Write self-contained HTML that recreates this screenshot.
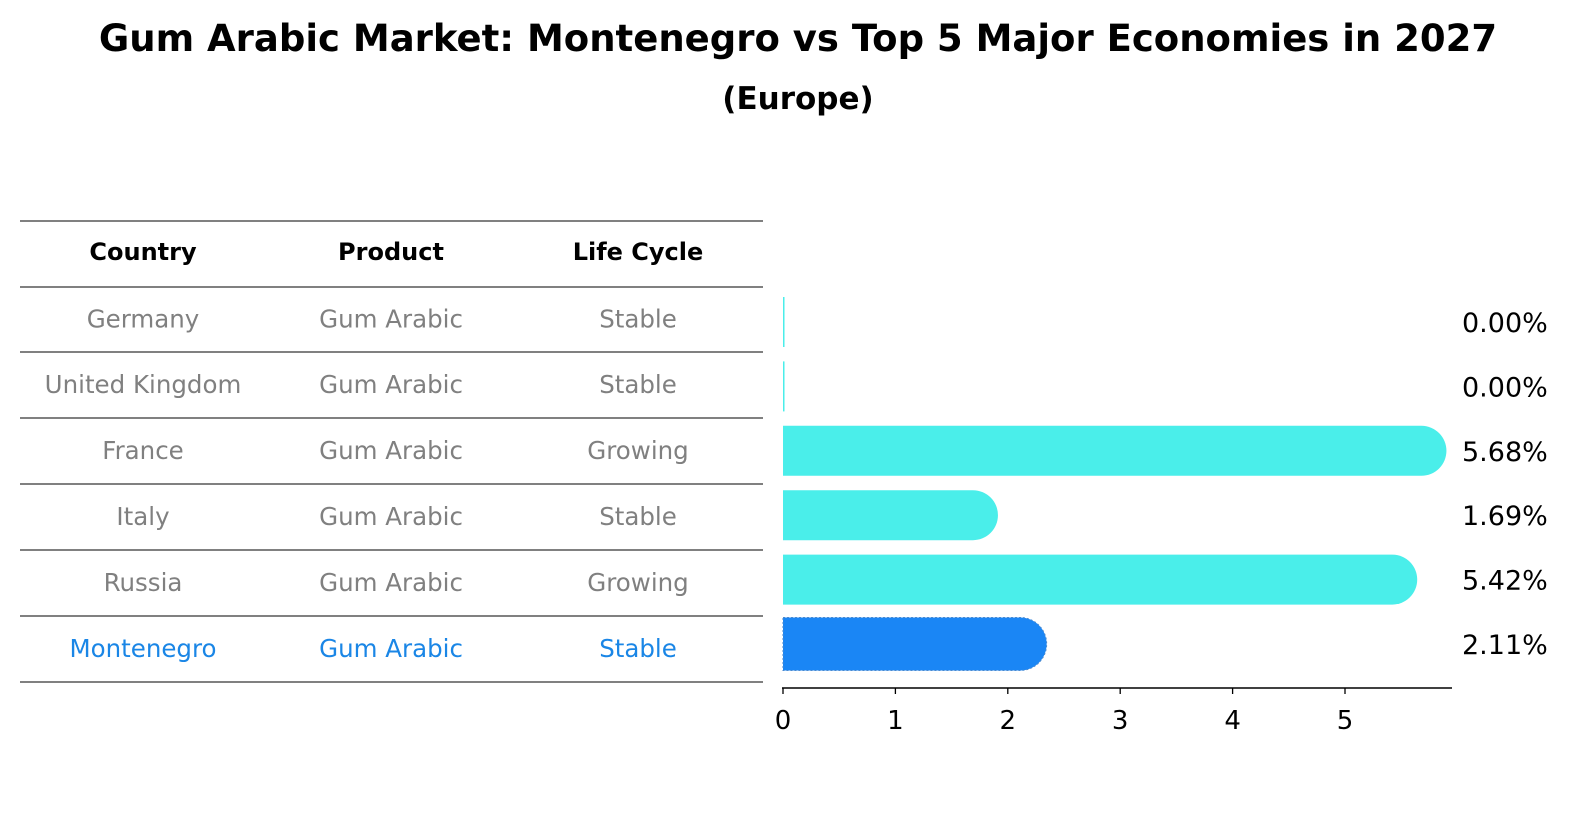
<!DOCTYPE html>
<html><head><meta charset="utf-8"><style>
body{margin:0;background:#fff;font-family:"DejaVu Sans","Liberation Sans",sans-serif;}
svg text{font-family:"DejaVu Sans","Liberation Sans",sans-serif;}
</style></head><body>
<svg id="chart" width="1586" height="823" viewBox="0 0 1586 823" xmlns="http://www.w3.org/2000/svg">
<text x="798" y="51" text-anchor="middle" font-size="37" font-weight="bold">Gum Arabic Market: Montenegro vs Top 5 Major Economies in 2027</text>
<text x="798" y="109" text-anchor="middle" font-size="31" font-weight="bold">(Europe)</text>
<g id="table"></g>
<g id="bars"></g>
<g id="axis"></g>
</svg>
<script>
const countries=["Germany","United Kingdom","France","Italy","Russia","Montenegro"];
const products=["Gum Arabic","Gum Arabic","Gum Arabic","Gum Arabic","Gum Arabic","Gum Arabic"];
const lifecycle=["Stable","Stable","Growing","Stable","Growing","Stable"];
const values=[0.00,0.00,5.68,1.69,5.42,2.11];
const ticks=[0,1,2,3,4,5];
const NS="http://www.w3.org/2000/svg";
function mk(t,a,p){const e=document.createElementNS(NS,t);for(const k in a)e.setAttribute(k,a[k]);p.appendChild(e);return e;}
const x=v=>783+v*112.4;
const rowY=i=>322+i*64.4;
const tb=document.getElementById('table');
const lines=[221,287,352,418,484,550,616,682];
lines.forEach(y=>{const l=mk('line',{x1:20,x2:763,y1:y,y2:y,stroke:'#000','stroke-width':1},tb);

});
const cx=[143,391,638];
["Country","Product","Life Cycle"].forEach((h,j)=>{const t=mk('text',{x:cx[j],y:260,'text-anchor':'middle','font-size':24,'font-weight':'bold'},tb);t.textContent=h;

});
countries.forEach((c,i)=>{const y=(lines[i+1]+lines[i+2])/2+8;const col=i===5?'#1a86e6':'#808080';
[c,products[i],lifecycle[i]].forEach((s,j)=>{const t=mk('text',{x:cx[j],y:y,'text-anchor':'middle','font-size':24.5,fill:col},tb);t.textContent=s;

});});
const bg=document.getElementById('bars');
values.forEach((v,i)=>{const cy=rowY(i),h=i===5?53:50,r=h/2,x0=x(0),x1=x(v);let el;
const col=i===5?'#1a86f5':'#4aeeea';
if(v<=0){el=mk('rect',{x:x0,y:cy-r,width:1.5,height:h,fill:col},bg);}
else{el=mk('path',{d:`M${x0},${cy-r}H${x1}A${r},${r} 0 0 1 ${x1},${cy+r}H${x0}Z`,fill:col},bg);
if(i===5){el.setAttribute('stroke','#4a8ad0');el.setAttribute('stroke-dasharray','2 2');}}


const t=mk('text',{x:1462,y:cy+10,'font-size':27},bg);t.textContent=v.toFixed(2)+'%';

});
const ax=document.getElementById('axis');
const al=mk('line',{x1:782,x2:1452,y1:688,y2:688,stroke:'#000','stroke-width':1.5},ax);


ticks.forEach(v=>{const tk=mk('line',{x1:x(v),x2:x(v),y1:688,y2:694,stroke:'#000','stroke-width':1.3},ax);


const t=mk('text',{x:x(v),y:729,'text-anchor':'middle','font-size':26},ax);t.textContent=v;

});
</script>
</body></html>
